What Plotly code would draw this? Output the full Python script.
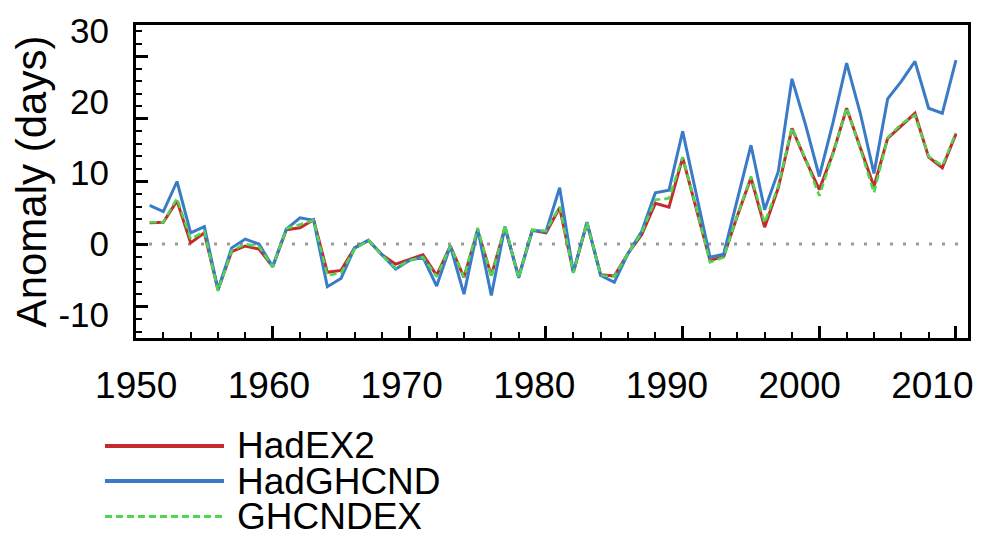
import plotly.graph_objects as go

# ---------------- data ----------------
years = list(range(1951, 2011))

hadex2 = [3.4, 3.5, 6.9, 0.2, 1.8, -7.3, -1.2, -0.3, -0.8, -3.6,
          2.3, 2.6, 3.9, -4.5, -4.2, -0.6, 0.6, -1.7, -3.2, -2.5,
          -1.7, -5.0, -0.3, -5.3, 2.2, -5.0, 2.6, -5.2, 2.2, 1.8,
          5.8, -4.5, 3.4, -4.9, -5.1, -1.5, 1.5, 6.5, 5.9, 13.8,
          5.8, -2.6, -2.0, 4.5, 10.6, 2.7, 9.0, 18.5, 13.4, 8.7,
          14.5, 21.7, 15.4, 9.2, 16.9, 18.9, 20.9, 13.9, 12.2, 17.6]

hadghcnd = [6.2, 5.2, 10.0, 1.8, 2.8, -7.3, -0.6, 0.8, 0.0, -3.6,
            2.4, 4.2, 3.8, -6.8, -5.5, -0.6, 0.6, -1.7, -4.0, -2.6,
            -2.1, -6.7, -0.3, -8.0, 2.4, -8.2, 2.8, -5.4, 2.2, 2.0,
            9.0, -4.5, 3.5, -5.0, -6.1, -1.5, 2.0, 8.2, 8.6, 18.0,
            7.9, -2.1, -1.6, 7.0, 15.8, 5.5, 11.6, 26.4, 19.0, 10.8,
            19.4, 28.9, 20.9, 11.3, 23.2, 26.0, 29.2, 21.7, 20.9, 29.4]

ghcndex = [3.5, 3.5, 7.3, 0.8, 2.0, -7.5, -1.0, 0.0, -0.4, -3.6,
           2.5, 3.2, 3.8, -5.0, -4.6, -0.8, 0.6, -1.8, -3.8, -2.6,
           -2.1, -5.2, -0.3, -5.3, 2.6, -5.3, 3.0, -5.4, 2.3, 2.1,
           6.0, -4.6, 3.5, -5.0, -5.2, -1.5, 1.8, 7.1, 7.3, 13.9,
           5.8, -2.9, -2.1, 4.6, 10.8, 3.4, 9.3, 18.6, 13.5, 7.7,
           14.4, 21.8, 15.2, 8.2, 17.0, 19.2, 20.6, 14.0, 12.5, 17.8]

series_names = ["HadEX2", "HadGHCND", "GHCNDEX"]
x_tick_labels = [1950, 1960, 1970, 1980, 1990, 2000, 2010]
y_tick_labels = [-10, 0, 10, 20, 30]
y_title = "Anomaly (days)"

# ---------------- styling ----------------
FONT = "Liberation Sans, Arial, Helvetica, sans-serif"
RED = "#c42a2e"
BLUE = "#3a7bc8"
GREEN = "#4fd64f"

fig = go.Figure()

fig.add_trace(go.Scatter(x=years, y=hadex2, mode="lines", name=series_names[0],
                         line=dict(color=RED, width=3), showlegend=False))
fig.add_trace(go.Scatter(x=years, y=hadghcnd, mode="lines", name=series_names[1],
                         line=dict(color=BLUE, width=3), showlegend=False))
fig.add_trace(go.Scatter(x=years, y=ghcndex, mode="lines", name=series_names[2],
                         line=dict(color=GREEN, width=2.6, dash="7px,4px"), showlegend=False))

# empty carriers so the label-only axes get drawn
fig.add_trace(go.Scatter(x=[], y=[], xaxis="x2", yaxis="y", showlegend=False, hoverinfo="skip"))
fig.add_trace(go.Scatter(x=[], y=[], xaxis="x", yaxis="y2", showlegend=False, hoverinfo="skip"))

# zero reference line
fig.add_hline(y=0, line=dict(color="#9a9a9a", width=3, dash="3px,10px"), layer="below")

tick_common = dict(ticks="inside", tickcolor="black", tickwidth=2.5, ticklen=12,
                   showline=True, linecolor="black", linewidth=2.5, mirror=True,
                   showgrid=False, zeroline=False, showticklabels=False,
                   automargin=False)

fig.update_layout(
    width=987, height=529,
    margin=dict(l=128, r=27, t=17, b=199),
    paper_bgcolor="white", plot_bgcolor="white",
    font=dict(family=FONT, color="black"),
    showlegend=False,
    xaxis=dict(range=[1950, 2010.88], tick0=1950, dtick=10,
               minor=dict(dtick=2, ticks="inside", ticklen=6, tickwidth=1.5, tickcolor="black"),
               **tick_common),
    yaxis=dict(range=[-15, 35], tick0=0, dtick=10,
               minor=dict(dtick=2, ticks="inside", ticklen=6, tickwidth=1.5, tickcolor="black"),
               **tick_common),
    # label axes (tick text only)
    xaxis2=dict(overlaying="x", anchor="y", side="bottom", automargin=False,
                range=[1949.98, 2012.69], tickmode="array",
                tickvals=x_tick_labels, ticktext=[str(v) for v in x_tick_labels],
                ticks="", showline=False, showgrid=False, zeroline=False,
                ticklabelstandoff=22,
                tickfont=dict(family=FONT, size=37, color="black")),
    yaxis2=dict(overlaying="y", anchor="x", side="left", automargin=False,
                range=[-13.35, 30.8], tickmode="array",
                tickvals=y_tick_labels, ticktext=[str(v) for v in y_tick_labels],
                ticks="", showline=False, showgrid=False, zeroline=False,
                ticklabelstandoff=26,
                tickfont=dict(family=FONT, size=35, color="black"),
                title=dict(text=y_title, font=dict(family=FONT, size=42, color="black"),
                           standoff=0)),
)

# custom legend (long swatches, tight rows as in the reference)
legend_colors = [RED, BLUE, GREEN]
legend_dash = ["solid", "solid", "7px,4px"]
legend_y = [-0.345, -0.457, -0.570]
for name, col, dsh, yy in zip(series_names, legend_colors, legend_dash, legend_y):
    fig.add_shape(type="line", xref="paper", yref="paper",
                  x0=-0.0373, x1=0.1058, y0=yy, y1=yy,
                  line=dict(color=col, width=4 if dsh == "solid" else 3, dash=dsh))
    fig.add_annotation(xref="paper", yref="paper", x=0.119, y=yy,
                       xanchor="left", yanchor="middle", showarrow=False,
                       text=name, font=dict(family=FONT, size=37, color="black"))

fig.write_html("out.html")
